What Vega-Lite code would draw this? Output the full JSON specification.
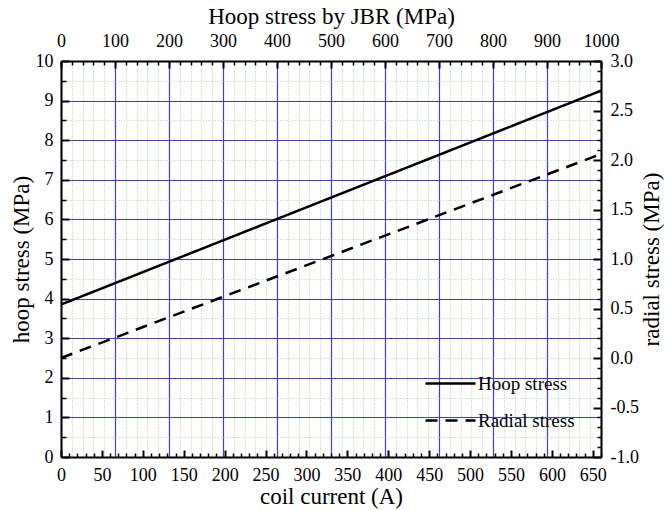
{
  "$schema": "https://vega.github.io/schema/vega-lite/v6.json",
  "width": 540,
  "height": 396,
  "autosize": {"type": "none"},
  "padding": {"left": 61, "top": 61, "right": 64, "bottom": 53},
  "background": "white",
  "config": {
    "view": {"stroke": null},
    "font": "Liberation Serif",
    "axis": {
      "labelFont": "Liberation Serif",
      "titleFont": "Liberation Serif",
      "labelFontSize": 18,
      "titleFontSize": 23,
      "titleFontWeight": "normal",
      "labelColor": "black",
      "titleColor": "black",
      "domainColor": "black",
      "domainWidth": 2,
      "tickColor": "black",
      "titlePadding": 5,
      "labelFlush": false
    },
    "legend": {"labelFont": "Liberation Serif", "labelFontSize": 19, "labelColor": "black"}
  },
  "datasets": {
    "hoop": [
      {"current": 0, "hoop": 3.85},
      {"current": 660, "hoop": 9.25}
    ],
    "radial": [
      {"current": 0, "radial": 0.0},
      {"current": 660, "radial": 2.06}
    ],
    "jbr": [
      {"jbr": 0},
      {"jbr": 1000}
    ]
  },
  "layer": [
    {
      "data": {"name": "jbr"},
      "mark": {"type": "point", "opacity": 0},
      "encoding": {
        "x": {
          "field": "jbr", "type": "quantitative",
          "scale": {"domain": [0, 1000], "nice": false, "zero": false},
          "axis": {
            "orient": "top",
            "title": "Hoop stress by JBR (MPa)",
            "values": [0,20,40,60,80,100,120,140,160,180,200,220,240,260,280,300,320,340,360,380,400,420,440,460,480,500,520,540,560,580,600,620,640,660,680,700,720,740,760,780,800,820,840,860,880,900,920,940,960,980,1000],
            "labelExpr": "datum.value % 100 === 0 ? format(datum.value, 'd') : ''",
            "labelFlush": false,
            "grid": true,
            "gridColor": {"condition": {"test": "datum.value % 100 === 0", "value": "#3c3ce0"}, "value": "#9ad89a"},
            "gridDash": {"condition": {"test": "datum.value % 100 === 0", "value": []}, "value": [1, 2]},
            "gridWidth": {"condition": {"test": "datum.value % 100 === 0", "value": 1.2}, "value": 1},
            "gridOpacity": 1,
            "tickSize": {"condition": {"test": "datum.value % 100 === 0", "value": -7}, "value": -4},
            "tickWidth": {"condition": {"test": "datum.value % 100 === 0", "value": 2}, "value": 1.5},
            "labelPadding": 18,
            "titlePadding": 4
          }
        }
      }
    },
    {
      "data": {"name": "hoop"},
      "mark": {"type": "line", "color": "black", "strokeWidth": 2.5},
      "encoding": {
        "x": {
          "field": "current", "type": "quantitative",
          "scale": {"domain": [0, 660], "nice": false, "zero": false},
          "axis": {
            "orient": "bottom",
            "title": "coil current (A)",
            "values": [0,10,20,30,40,50,60,70,80,90,100,110,120,130,140,150,160,170,180,190,200,210,220,230,240,250,260,270,280,290,300,310,320,330,340,350,360,370,380,390,400,410,420,430,440,450,460,470,480,490,500,510,520,530,540,550,560,570,580,590,600,610,620,630,640,650,660],
            "labelExpr": "datum.value % 50 === 0 ? format(datum.value, 'd') : ''",
            "labelFlush": false,
            "grid": false,
            "tickSize": {"condition": {"test": "datum.value % 50 === 0", "value": -7}, "value": -4},
            "tickWidth": {"condition": {"test": "datum.value % 50 === 0", "value": 2}, "value": 1.5},
            "labelPadding": 16,
            "titlePadding": 1
          }
        },
        "y": {
          "field": "hoop", "type": "quantitative",
          "scale": {"domain": [0, 10], "nice": false, "zero": false},
          "axis": {
            "orient": "left",
            "title": "hoop stress (MPa)",
            "values": [0,0.5,1,1.5,2,2.5,3,3.5,4,4.5,5,5.5,6,6.5,7,7.5,8,8.5,9,9.5,10],
            "labelExpr": "datum.value % 1 === 0 ? format(datum.value, 'd') : ''",
            "labelFlush": false,
            "grid": true,
            "gridColor": {"condition": {"test": "datum.value % 1 === 0", "value": "#3c3ce0"}, "value": "#9ad89a"},
            "gridDash": {"condition": {"test": "datum.value % 1 === 0", "value": []}, "value": [1, 2]},
            "gridWidth": {"condition": {"test": "datum.value % 1 === 0", "value": 1.2}, "value": 1},
            "gridOpacity": 1,
            "tickSize": {"condition": {"test": "datum.value % 1 === 0", "value": -8}, "value": -5},
            "tickWidth": {"condition": {"test": "datum.value % 1 === 0", "value": 2}, "value": 1.5},
            "labelPadding": 16,
            "titlePadding": 2
          }
        },
        "strokeDash": {
          "datum": "Hoop stress", "type": "nominal",
          "scale": {"domain": ["Hoop stress", "Radial stress"], "range": [[1, 0], [12, 8]]},
          "legend": {
            "title": null,
            "orient": "none",
            "legendX": 363,
            "legendY": 296,
            "symbolType": "stroke",
            "symbolSize": 2500,
            "symbolStrokeWidth": 2.5,
            "symbolStrokeColor": "black",
            "labelOffset": 1,
            "rowPadding": -15
          }
        }
      }
    },
    {
      "data": {"name": "radial"},
      "mark": {"type": "line", "color": "black", "strokeWidth": 2.5},
      "encoding": {
        "x": {
          "field": "current", "type": "quantitative",
          "scale": {"domain": [0, 660], "nice": false, "zero": false},
          "axis": null
        },
        "y": {
          "field": "radial", "type": "quantitative",
          "scale": {"domain": [-1, 3], "nice": false, "zero": false},
          "axis": {
            "orient": "right",
            "title": "radial stress (MPa)",
            "titleAngle": 270,
            "titleBaseline": "top",
            "values": [-1,-0.9,-0.8,-0.7,-0.6,-0.5,-0.4,-0.3,-0.2,-0.1,0,0.1,0.2,0.3,0.4,0.5,0.6,0.7,0.8,0.9,1,1.1,1.2,1.3,1.4,1.5,1.6,1.7,1.8,1.9,2,2.1,2.2,2.3,2.4,2.5,2.6,2.7,2.8,2.9,3],
            "labelExpr": "round(datum.value * 10) % 5 === 0 ? ((datum.value < -0.001 ? '-' : '') + format(abs(datum.value), '.1f')) : ''",
            "labelFlush": false,
            "grid": false,
            "tickSize": {"condition": {"test": "round(datum.value * 10) % 5 === 0", "value": -8}, "value": -4},
            "tickWidth": {"condition": {"test": "round(datum.value * 10) % 5 === 0", "value": 2}, "value": 1.5},
            "labelPadding": 17,
            "titlePadding": 2
          }
        },
        "strokeDash": {
          "datum": "Radial stress", "type": "nominal"
        }
      }
    }
  ],
  "resolve": {
    "scale": {"x": "independent", "y": "independent"},
    "axis": {"x": "independent", "y": "independent"}
  }
}
